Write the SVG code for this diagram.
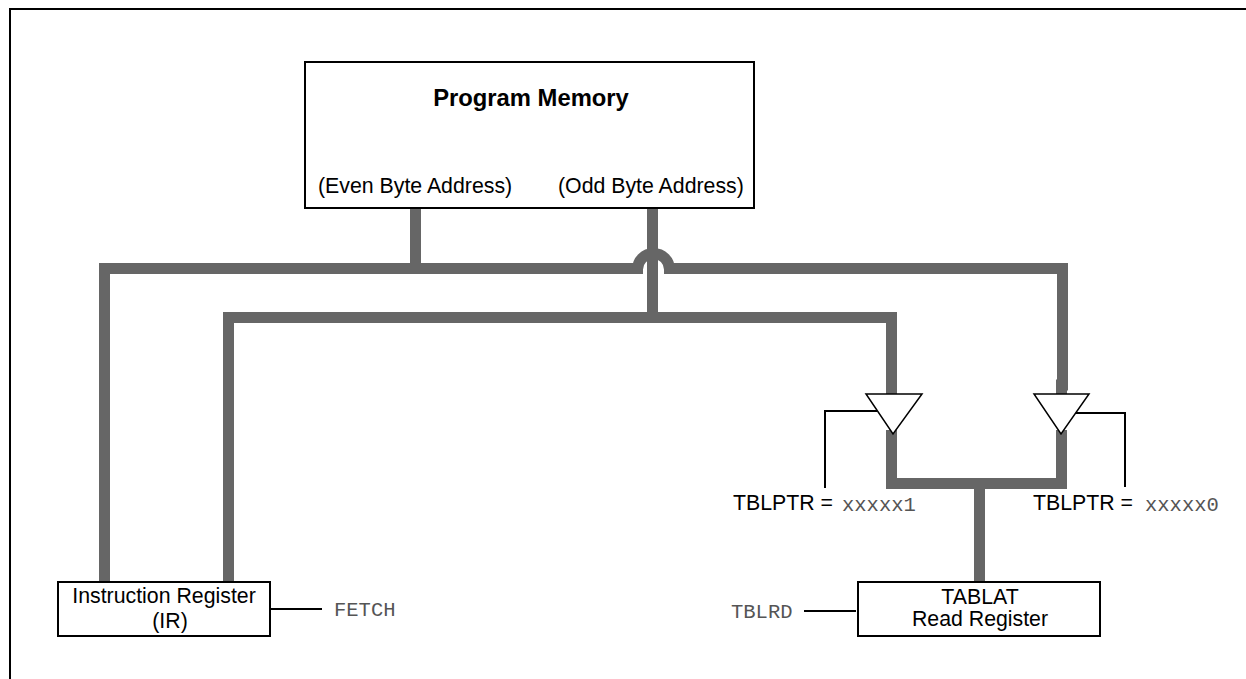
<svg xmlns="http://www.w3.org/2000/svg" width="1246" height="679" viewBox="0 0 1246 679">
<style>
.bus{fill:none;stroke:#666;stroke-width:11}
.ln{fill:none;stroke:#000;stroke-width:2}
.box{fill:#fff;stroke:#000;stroke-width:2}
.tri{fill:#fff;stroke:#000;stroke-width:1.500}
text{font-family:"Liberation Sans",Arial,sans-serif;font-size:21.300px;fill:#000}
.m{font-family:"Liberation Mono","Courier New",monospace;font-size:20.500px;fill:#555}
.c{text-anchor:middle}
.b{font-weight:bold;font-size:23.800px}
</style>
<rect width="1246" height="679" fill="#fff"/>
<path d="M10 679V9H1246" fill="none" stroke="#000" stroke-width="2"/>
<g id="connectors">
<path class="bus" d="M415.500 209V268"/>
<path class="bus" d="M104.500 582V268.500H637.500M669.500 268.500H1062.500V385H1061.500V394"/>
<path class="bus" d="M637.500 274V269.500A16 16 0 0 1 669.500 269.500V274"/>
<path class="bus" d="M652.500 209V318"/>
<path class="bus" d="M228.500 582V317.500H891.500V394"/>
<path class="bus" d="M891.500 430V483.500H1061.500V430"/>
<path class="bus" d="M979.500 483.500V582"/>
<path class="ln" d="M877 411H825V488"/>
<path class="ln" d="M1075 413H1125V487"/>
<path class="ln" d="M271 609H322"/>
<path class="ln" d="M804 611H856"/>
</g>
<g id="program-memory">
<rect class="box" x="305" y="62" width="449" height="146"/>
<text class="c b" x="531" y="106">Program Memory</text>
<text x="318" y="193">(Even Byte Address)</text>
<text x="558" y="193">(Odd Byte Address)</text>
</g>
<g id="buffer-left"><polygon class="tri" points="866,394 922,394 893,434"/></g>
<g id="buffer-right"><polygon class="tri" points="1034,394 1089,394 1061,434"/></g>
<g id="instruction-register">
<rect class="box" x="58" y="582" width="212" height="54"/>
<text class="c" x="164" y="603">Instruction Register</text>
<text class="c" x="170" y="628">(IR)</text>
</g>
<g id="tablat">
<rect class="box" x="858" y="582" width="242" height="54"/>
<text class="c" x="980" y="604">TABLAT</text>
<text class="c" x="980" y="626">Read Register</text>
</g>
<g id="labels">
<text x="733" y="510">TBLPTR =</text>
<text class="m" x="842" y="511">xxxxx1</text>
<text x="1033" y="510">TBLPTR =</text>
<text class="m" x="1145" y="511">xxxxx0</text>
<text class="m" x="334" y="616">FETCH</text>
<text class="m" x="731" y="618">TBLRD</text>
</g>
</svg>
